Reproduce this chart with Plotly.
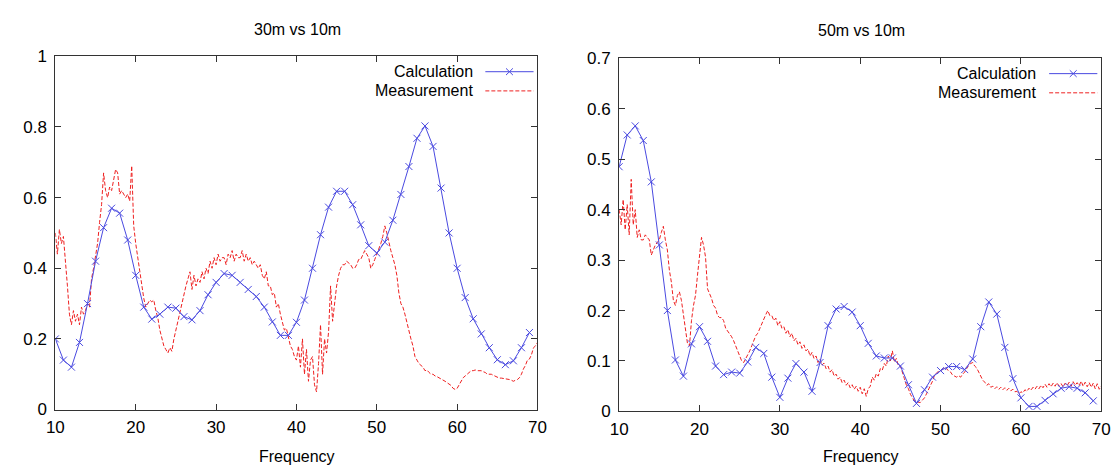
import numpy as np
import plotly.graph_objects as go

# ---------------- data ----------------
calc_freq = list(range(10, 70))  # 10 .. 69
meas_freq = list(np.round(np.arange(10, 70.001, 0.25), 2))  # 10 .. 70 step .25

calc_30 = [0.20, 0.14, 0.12, 0.19, 0.30, 0.42, 0.515, 0.57, 0.556, 0.48,
           0.38, 0.29, 0.256, 0.27, 0.29, 0.287, 0.263, 0.254, 0.28, 0.325,
           0.36, 0.385, 0.38, 0.36, 0.34, 0.32, 0.29, 0.248, 0.21, 0.21,
           0.247, 0.31, 0.40, 0.495, 0.573, 0.618, 0.618, 0.58, 0.523, 0.464,
           0.443, 0.474, 0.536, 0.609, 0.688, 0.768, 0.803, 0.745, 0.627, 0.50,
           0.40, 0.317, 0.257, 0.214, 0.175, 0.141, 0.127, 0.138, 0.175, 0.218]

meas_30 = [
    0.50, 0.44, 0.51, 0.47,   0.49, 0.43, 0.35, 0.27,   0.24, 0.28, 0.25, 0.27,
    0.24, 0.29, 0.27, 0.28,   0.30, 0.29, 0.37, 0.40,   0.43, 0.47, 0.53, 0.58,
    0.67, 0.62, 0.60, 0.63,   0.62, 0.65, 0.68, 0.67,   0.61, 0.62, 0.61, 0.60,
    0.61, 0.59, 0.69, 0.52,   0.47, 0.43, 0.39, 0.35,   0.315, 0.29, 0.30, 0.31,
    0.305, 0.31, 0.28, 0.26,  0.225, 0.20, 0.18, 0.17,  0.16, 0.175, 0.165, 0.20,
    0.225, 0.25, 0.28, 0.30,  0.325, 0.35, 0.37, 0.39,  0.34, 0.38, 0.35, 0.37,
    0.36, 0.39, 0.37, 0.40,   0.385, 0.42, 0.40, 0.43,  0.41, 0.44, 0.42, 0.43,
    0.43, 0.41, 0.44, 0.43,   0.45, 0.42, 0.44, 0.43,   0.43, 0.45, 0.42, 0.44,
    0.42, 0.43, 0.41, 0.42,   0.41, 0.40, 0.41, 0.38,   0.37, 0.39, 0.35, 0.35,
    0.325, 0.33, 0.29, 0.30,  0.27, 0.25, 0.225, 0.23,  0.205, 0.18, 0.17, 0.15,
    0.14, 0.18, 0.12, 0.20,   0.10, 0.17, 0.08, 0.14,   0.15, 0.07, 0.05, 0.13,
    0.24, 0.10, 0.20, 0.16,   0.22, 0.35, 0.25, 0.30,   0.35, 0.38, 0.40, 0.41,
    0.41, 0.42, 0.415, 0.41,  0.40, 0.40, 0.41, 0.425,  0.425, 0.44, 0.45, 0.44,
    0.43, 0.40, 0.41, 0.425,  0.44, 0.45, 0.47, 0.49,   0.52, 0.50, 0.47, 0.45,
    0.43, 0.41, 0.38, 0.33,   0.30, 0.29, 0.27, 0.245,  0.22, 0.20, 0.18, 0.15,
    0.14, 0.13, 0.125, 0.12,  0.11, 0.112, 0.105, 0.10, 0.10, 0.095, 0.093, 0.09,
    0.088, 0.085, 0.08, 0.076, 0.072, 0.068, 0.06, 0.057, 0.06, 0.07, 0.08, 0.09,
    0.095, 0.10, 0.105, 0.11, 0.11, 0.112, 0.11, 0.11,  0.11, 0.107, 0.105, 0.10,
    0.10, 0.10, 0.097, 0.094, 0.09, 0.089, 0.089, 0.088, 0.089, 0.087, 0.085, 0.083,
    0.08, 0.083, 0.085, 0.09, 0.10, 0.115, 0.125, 0.14, 0.143, 0.155, 0.175, 0.18,
    0.19]

calc_50 = [0.485, 0.548, 0.566, 0.537, 0.455, 0.33, 0.20, 0.102, 0.07, 0.134,
           0.168, 0.139, 0.09, 0.073, 0.078, 0.076, 0.098, 0.127, 0.115, 0.068,
           0.028, 0.066, 0.095, 0.078, 0.04, 0.097, 0.17, 0.203, 0.208, 0.197,
           0.17, 0.135, 0.11, 0.106, 0.106, 0.09, 0.053, 0.016, 0.043, 0.068,
           0.081, 0.089, 0.089, 0.083, 0.104, 0.168, 0.217, 0.193, 0.127, 0.065,
           0.027, 0.01, 0.01, 0.022, 0.035, 0.046, 0.049, 0.046, 0.037, 0.021]

meas_50 = [
    0.40, 0.37, 0.42, 0.36,   0.41, 0.35, 0.46, 0.37,   0.40, 0.345, 0.36, 0.34,
    0.34, 0.35, 0.345, 0.34,  0.31, 0.32, 0.33, 0.335,  0.34, 0.355, 0.367, 0.34,
    0.32, 0.28, 0.256, 0.22,  0.21, 0.23, 0.237, 0.22,  0.19, 0.16, 0.135, 0.13,
    0.18, 0.21, 0.23, 0.27,   0.31, 0.345, 0.33, 0.306, 0.243, 0.235, 0.224, 0.21,
    0.205, 0.19, 0.186, 0.186, 0.18, 0.165, 0.16, 0.155, 0.148, 0.14, 0.13, 0.12,
    0.11, 0.10, 0.097, 0.105, 0.11, 0.12, 0.13, 0.14,   0.15, 0.155, 0.165, 0.173,
    0.185, 0.192, 0.20, 0.19, 0.19, 0.18, 0.185, 0.17,  0.178, 0.165, 0.168, 0.155,
    0.162, 0.148, 0.155, 0.14, 0.145, 0.132, 0.138, 0.125, 0.132, 0.12, 0.124, 0.11,
    0.117, 0.105, 0.11, 0.097, 0.104, 0.092, 0.096, 0.085, 0.09, 0.078, 0.083, 0.07,
    0.074, 0.064, 0.068, 0.057, 0.062, 0.052, 0.057, 0.047, 0.053, 0.044, 0.05, 0.04,
    0.048, 0.035, 0.045, 0.03, 0.045, 0.05, 0.068, 0.062, 0.075, 0.07, 0.085, 0.082,
    0.095, 0.09, 0.11, 0.10,  0.12, 0.098, 0.105, 0.09, 0.09, 0.075, 0.065, 0.052,
    0.045, 0.034, 0.028, 0.021, 0.02, 0.018, 0.018, 0.022, 0.027, 0.035, 0.045, 0.052,
    0.06, 0.072, 0.076, 0.08, 0.081, 0.085, 0.087, 0.085, 0.08, 0.078, 0.072, 0.07,
    0.068, 0.071, 0.068, 0.074, 0.078, 0.085, 0.092, 0.095, 0.097, 0.09, 0.086, 0.078,
    0.07, 0.062, 0.058, 0.052, 0.055, 0.048, 0.05, 0.045, 0.049, 0.044, 0.048, 0.043,
    0.047, 0.042, 0.046, 0.041, 0.044, 0.039, 0.04, 0.035, 0.039, 0.037, 0.043, 0.04,
    0.046, 0.042, 0.048, 0.044, 0.05, 0.045, 0.052, 0.047, 0.054, 0.048, 0.055, 0.049,
    0.056, 0.05, 0.057, 0.05, 0.055, 0.049, 0.056, 0.051, 0.058, 0.05, 0.059, 0.052,
    0.057, 0.051, 0.06, 0.05, 0.058, 0.049, 0.057, 0.048, 0.056, 0.045, 0.055, 0.044,
    0.05]

titles = ["30m vs 10m", "50m vs 10m"]
x_label = "Frequency"
series_names = ["Calculation", "Measurement"]
x_ticks = [10, 20, 30, 40, 50, 60, 70]
y_ticks_30 = [0, 0.2, 0.4, 0.6, 0.8, 1]
y_tick_text_30 = ["0", "0.2", "0.4", "0.6", "0.8", "1"]
y_ticks_50 = [0, 0.1, 0.2, 0.3, 0.4, 0.5, 0.6, 0.7]
y_tick_text_50 = ["0", "0.1", "0.2", "0.3", "0.4", "0.5", "0.6", "0.7"]

# ---------------- style ----------------
W, H = 1119, 472
BLUE = "#4a4ae0"
RED = "#ee2020"
FONT = "Liberation Sans"
AX = "#333333"

# plot-area pixel boxes
boxes = [(39, 529, 41, 409), (612, 1102, 43, 411)]


def px(x):
    return x / W


def py(y):
    return 1 - y / H


fig = go.Figure()

data_sets = [(calc_30, meas_30), (calc_50, meas_50)]
for i, (calc, meas) in enumerate(data_sets):
    xa = "x" if i == 0 else "x2"
    ya = "y" if i == 0 else "y2"
    fig.add_trace(go.Scatter(x=meas_freq, y=meas, mode="lines", xaxis=xa, yaxis=ya,
                             line=dict(color=RED, width=1, dash="4px,2px"),
                             showlegend=False, name=series_names[1]))
    fig.add_trace(go.Scatter(x=calc_freq, y=calc, mode="lines+markers", xaxis=xa, yaxis=ya,
                             line=dict(color=BLUE, width=1),
                             marker=dict(symbol="x-thin", size=7,
                                         line=dict(color=BLUE, width=1)),
                             showlegend=False, name=series_names[0]))


def xaxis(box):
    return dict(domain=[px(box[0]), px(box[1])], range=[10, 70],
                tickvals=x_ticks, ticks="inside", ticklen=6, tickcolor=AX,
                showline=True, linecolor=AX, linewidth=1, mirror="ticks",
                showgrid=False, zeroline=False, ticklabelstandoff=2,
                tickfont=dict(family=FONT, size=17, color="black"))


def yaxis(box, rng, tv, tt):
    return dict(domain=[py(box[3]), py(box[2])], range=rng,
                tickvals=tv, ticktext=tt, ticks="inside", ticklen=6, tickcolor=AX,
                showline=True, linecolor=AX, linewidth=1, mirror="ticks",
                showgrid=False, zeroline=False, ticklabelstandoff=4,
                tickfont=dict(family=FONT, size=17, color="black"))


fig.update_layout(
    width=W, height=H, margin=dict(l=0, r=0, t=0, b=0),
    paper_bgcolor="white", plot_bgcolor="white",
    xaxis=xaxis(boxes[0]),
    yaxis=yaxis(boxes[0], [0, 1], y_ticks_30, y_tick_text_30),
    xaxis2=dict(xaxis(boxes[1]), anchor="y2"),
    yaxis2=dict(yaxis(boxes[1], [0, 0.7], y_ticks_50, y_tick_text_50), anchor="x2"),
    showlegend=False,
)

annotations = []
shapes = []
for i, box in enumerate(boxes):
    cx = (box[0] + box[1]) / 2 + 1
    annotations.append(dict(text=titles[i], x=px(cx), y=py(13 + i * 1.5), xref="paper", yref="paper",
                            showarrow=False, xanchor="center", yanchor="middle",
                            font=dict(family=FONT, size=16, color="black")))
    annotations.append(dict(text=x_label, x=px(cx), y=py(458), xref="paper", yref="paper",
                            showarrow=False, xanchor="center", yanchor="middle",
                            font=dict(family=FONT, size=16, color="black")))
    # manual legend (text left of sample, as in reference)
    right = box[1]
    text_x = right - 64
    for j, name in enumerate(series_names):
        ly = box[2] + 16 + j * 20
        annotations.append(dict(text=name, x=px(text_x), y=py(ly), xref="paper", yref="paper",
                                showarrow=False, xanchor="right", yanchor="middle",
                                font=dict(family=FONT, size=16, color="black")))
        x0, x1 = right - 53, right - 4
        if j == 0:
            shapes.append(dict(type="line", xref="paper", yref="paper",
                               x0=px(x0), x1=px(x1), y0=py(ly), y1=py(ly),
                               line=dict(color=BLUE, width=1)))
            mx = (x0 + x1) / 2
            for dy in (-1, 1):
                shapes.append(dict(type="line", xref="paper", yref="paper",
                                   x0=px(mx - 3.5), x1=px(mx + 3.5),
                                   y0=py(ly - 3.5 * dy), y1=py(ly + 3.5 * dy),
                                   line=dict(color=BLUE, width=1)))
        else:
            shapes.append(dict(type="line", xref="paper", yref="paper",
                               x0=px(x0), x1=px(x1), y0=py(ly), y1=py(ly),
                               line=dict(color=RED, width=1, dash="4px,2px")))

fig.update_layout(annotations=annotations, shapes=shapes)

fig.write_html("out.html")
